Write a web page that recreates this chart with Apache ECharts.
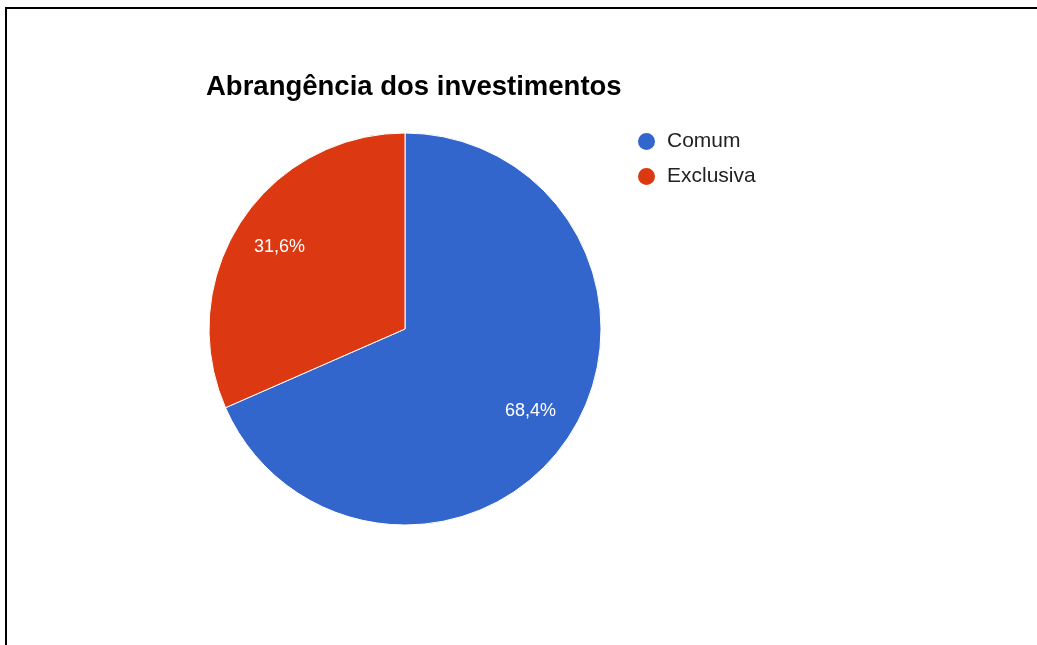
<!DOCTYPE html>
<html>
<head>
<meta charset="utf-8">
<script src="https://cdn.jsdelivr.net/npm/echarts@6/dist/echarts.min.js"></script>
<style>
  html, body { margin: 0; padding: 0; background: #fff; }
  #main { width: 1037px; height: 645px; position: relative; }
  .frame {
    position: absolute; left: 5px; top: 7px; right: 0; bottom: 0;
    border-top: 2px solid #000; border-left: 2px solid #000;
    pointer-events: none;
  }
</style>
</head>
<body>
<div id="main"></div>
<div class="frame"></div>
<script>
// dados
const categories = ["Comum", "Exclusiva"];
const values = [13, 6];
const colors = ["#3366CC", "#DC3912"];

const chart = echarts.init(document.getElementById("main"));

const pieData = categories.map((name, i) => ({
  name: name,
  value: values[i],
  itemStyle: { color: colors[i] }
}));

const option = {
  animation: false,
  title: {
    text: "Abrangência dos investimentos",
    left: 201,
    top: 68,
    textStyle: {
      fontFamily: "Liberation Sans, Arial, sans-serif",
      fontSize: 27.5,
      fontWeight: "bold",
      color: "#000"
    }
  },
  legend: {
    orient: "vertical",
    left: 636,
    top: 131,
    padding: 0,
    icon: "circle",
    itemWidth: 19,
    itemHeight: 19,
    itemGap: 14,
    data: categories,
    textStyle: {
      fontFamily: "Liberation Sans, Arial, sans-serif",
      fontSize: 21,
      color: "#222",
      padding: [0, 0, 0, 6]
    }
  },
  series: [
    {
      type: "pie",
      center: [405, 329],
      radius: 196,
      startAngle: 90,
      clockwise: true,
      label: { show: false },
      labelLine: { show: false },
      itemStyle: { borderColor: "#fff", borderWidth: 1 },
      emphasis: { disabled: true },
      data: pieData
    },
    {
      // camada transparente só para posicionar os rótulos a ~3/4 do raio
      type: "pie",
      center: [405, 329],
      radius: [98, 196],
      startAngle: 90,
      clockwise: true,
      silent: true,
      legendHoverLink: false,
      itemStyle: { color: "transparent", borderWidth: 0 },
      label: {
        show: true,
        position: "inside",
        color: "#fff",
        fontFamily: "Liberation Sans, Arial, sans-serif",
        fontSize: 18,
        formatter: p => p.percent.toFixed(1).replace(".", ",") + "%"
      },
      labelLine: { show: false },
      emphasis: { disabled: true },
      data: categories.map((name, i) => ({ name: name, value: values[i] }))
    }
  ]
};

chart.setOption(option);
</script>
</body>
</html>
